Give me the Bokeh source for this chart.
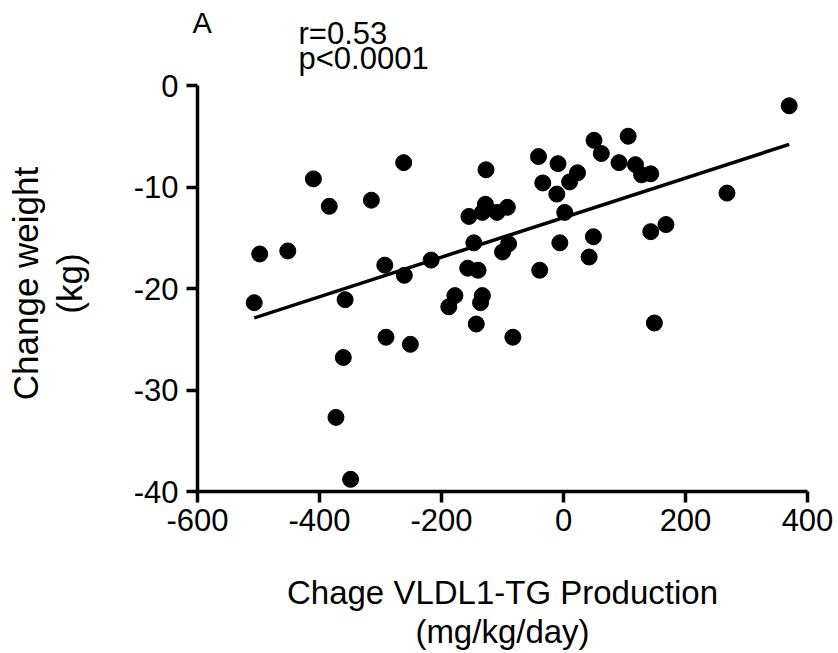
import math
from bokeh.plotting import figure
from bokeh.models import Range1d, FixedTicker, Label, ColumnDataSource, LinearAxis, Grid
from bokeh.embed import file_html
from bokeh.resources import INLINE

# ---- data ----
vldl_change = [-507, -498, -452, -410, -384, -373, -361, -358, -349, -315,
               -293, -291, -262, -261, -251, -217, -188, -178, -157, -155,
               -147, -143, -140, -136, -133, -133, -128, -127, -109, -100,
               -92, -90, -83, -41, -39, -34, -11, -9, -6, 2,
               10, 23, 42, 49, 50, 62, 91, 106, 118, 128,
               143, 143, 149, 168, 268, 370]
weight_change = [-21.4, -16.6, -16.3, -9.2, -11.9, -32.7, -26.8, -21.1, -38.8, -11.3,
                 -17.7, -24.8, -7.6, -18.7, -25.5, -17.2, -21.8, -20.7, -18.0, -12.9,
                 -15.5, -23.5, -18.2, -21.4, -20.7, -12.5, -11.7, -8.3, -12.5, -16.4,
                 -12.0, -15.6, -24.8, -7.0, -18.2, -9.6, -10.7, -7.7, -15.5, -12.5,
                 -9.5, -8.6, -16.9, -14.9, -5.4, -6.7, -7.6, -5.0, -7.8, -8.8,
                 -8.7, -14.4, -23.4, -13.7, -10.6, -2.0]
fit_x = [-507, 370]
fit_y = [-22.9, -5.8]
x_ticks = [-600, -400, -200, 0, 200, 400]
x_tick_labels = ["-600", "-400", "-200", "0", "200", "400"]
y_ticks = [-40, -30, -20, -10, 0]
y_tick_labels = ["-40", "-30", "-20", "-10", "0"]
x_title = ["Chage VLDL1-TG Production", "(mg/kg/day)"]
y_title = ["Change weight", "(kg)"]
panel_letter = "A"
stats_lines = ["r=0.53", "p<0.0001"]

FONT = "Liberation Sans"
W, H = 836, 651

# pixel anchors of the axes inside the figure
PX_LEFT, PX_RIGHT = 197, 807      # x = -600 .. 400
PY_TOP, PY_BOT = 85, 491          # y = 0 .. -40
sx = (PX_RIGHT - PX_LEFT) / 1000.0
sy = (PY_BOT - PY_TOP) / 40.0
x0 = -600 - PX_LEFT / sx
x1 = x0 + W / sx
y1 = PY_TOP / sy
y0 = y1 - H / sy

def dx(px):
    return x0 + px / sx

def dy(py):
    return y1 - py / sy

TXT_SHIFT = 12  # empirical label baseline shift (px)

p = figure(width=W, height=H, output_backend="svg", toolbar_location=None,
           title=None, x_range=Range1d(x0, x1), y_range=Range1d(y0, y1),
           x_axis_location=None, y_axis_location=None,
           min_border=0, min_border_left=0, min_border_right=0,
           min_border_top=0, min_border_bottom=0)
p.outline_line_color = None
p.background_fill_color = "white"
p.border_fill_color = "white"
for r in list(p.center):
    if isinstance(r, Grid):
        r.visible = False
        r.grid_line_color = None

src = ColumnDataSource(dict(x=vldl_change, y=weight_change))
p.scatter("x", "y", source=src, size=16, fill_color="black", line_color="black")
p.line(fit_x, fit_y, line_color="black", line_width=3.5)

xax = LinearAxis(fixed_location=-40, bounds=(-600, 400),
                 ticker=FixedTicker(ticks=x_ticks),
                 major_label_overrides=dict(zip(x_ticks, x_tick_labels)))
yax = LinearAxis(fixed_location=-600, bounds=(-40, 0),
                 ticker=FixedTicker(ticks=y_ticks),
                 major_label_overrides=dict(zip(y_ticks, y_tick_labels)))
for ax in (xax, yax):
    ax.axis_line_width = 3.5
    ax.axis_line_color = "black"
    ax.major_tick_line_width = 3.5
    ax.major_tick_line_color = "black"
    ax.major_tick_out = 11
    ax.major_tick_in = 0
    ax.minor_tick_line_color = None
    ax.major_label_text_font = FONT
    ax.major_label_text_font_size = "31px"
    ax.major_label_text_color = "black"
xax.major_label_standoff = 6
yax.major_label_standoff = 8
p.add_layout(xax, "below")
p.add_layout(yax, "left")

def lab(x, y, text, size, align="left", angle=0.0):
    p.add_layout(Label(x=x, y=y, text=text, text_font=FONT, text_font_size=size,
                       text_color="black", text_align=align,
                       text_baseline="alphabetic", angle=angle))

# panel letter and statistics
lab(dx(192), dy(34 - TXT_SHIFT), panel_letter, "29px")
lab(dx(298), dy(45 - TXT_SHIFT), stats_lines[0], "31px")
lab(dx(298), dy(70 - TXT_SHIFT), stats_lines[1], "31px")

# x title (two lines, centred under the axis)
lab(dx(502), dy(604 - TXT_SHIFT), x_title[0], "33px", align="center")
lab(dx(502), dy(643 - TXT_SHIFT), x_title[1], "33px", align="center")

# y title (rotated)
lab(dx(37 - TXT_SHIFT), dy(283), y_title[0], "35px", align="center", angle=math.pi / 2)
lab(dx(81 - TXT_SHIFT), dy(283), y_title[1], "35px", align="center", angle=math.pi / 2)

open("out.html", "w").write(file_html(p, INLINE))
